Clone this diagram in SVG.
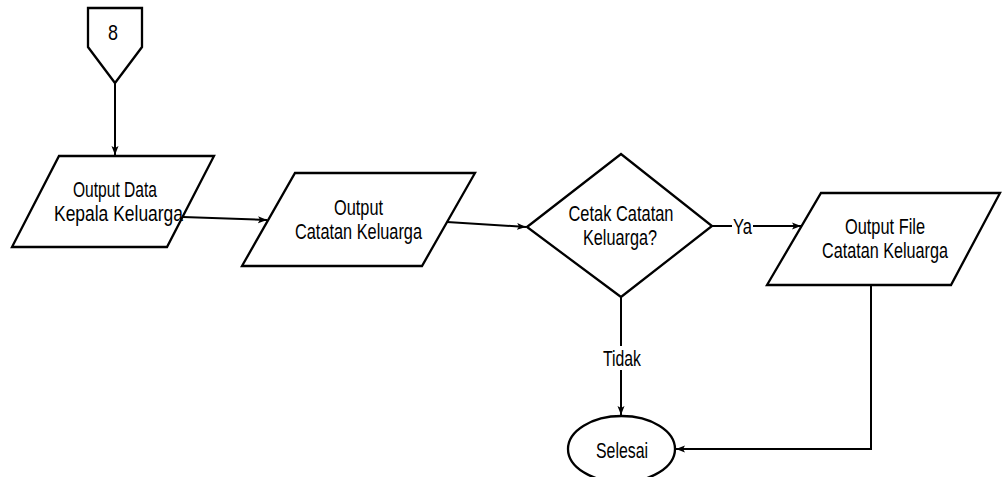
<svg xmlns="http://www.w3.org/2000/svg" width="1003" height="477" viewBox="0 0 1003 477">
<style>
.s{fill:#fff;stroke:#000;stroke-width:2.3;stroke-linejoin:miter}
.c{fill:none;stroke:#000;stroke-width:2}
.t{font-family:"Liberation Sans",Arial,sans-serif;font-size:21.5px;fill:#000;text-anchor:middle}
.bg{fill:#fff}
</style>
<defs>
<marker id="ah" markerWidth="10" markerHeight="8" refX="9" refY="4" orient="auto" markerUnits="userSpaceOnUse">
<path d="M0,0.5 L9,4 L0,7.5 L2,4 Z" fill="#000"/>
</marker>
</defs>
<rect width="1003" height="477" fill="#fff"/>
<g id="connectors">
<path class="c" d="M115,83 L115,155" marker-end="url(#ah)"/>
<path class="c" d="M183,217 L267,220" marker-end="url(#ah)"/>
<path class="c" d="M447,222 L526,227" marker-end="url(#ah)"/>
<path class="c" d="M712,226 L801,226" marker-end="url(#ah)"/>
<path class="c" d="M621,297 L621,415" marker-end="url(#ah)"/>
<path class="c" d="M871,285 L871,449 L676,449" marker-end="url(#ah)"/>
<rect class="bg" x="732" y="216" width="21" height="20"/>
<text class="t" x="742.5" y="233.5" textLength="19" lengthAdjust="spacingAndGlyphs">Ya</text>
<rect class="bg" x="601" y="346" width="42" height="24"/>
<text class="t" x="622" y="366" textLength="38" lengthAdjust="spacingAndGlyphs">Tidak</text>
</g>
<g id="n8">
<path class="s" d="M88,8 L142,8 L142,47 L115,83 L88,47 Z"/>
<text class="t" x="113" y="40" textLength="10" lengthAdjust="spacingAndGlyphs">8</text>
</g>
<g id="outputDataKK">
<path class="s" d="M59,156 L214,156 L167,247 L12,247 Z"/>
<text class="t" x="115" y="196.5" textLength="84" lengthAdjust="spacingAndGlyphs">Output Data</text>
<text class="t" x="118.5" y="220.5" textLength="129" lengthAdjust="spacingAndGlyphs">Kepala Keluarga</text>
</g>
<g id="outputCatatan">
<path class="s" d="M295,173 L475,173 L422,266 L242,266 Z"/>
<text class="t" x="358.5" y="215" textLength="49" lengthAdjust="spacingAndGlyphs">Output</text>
<text class="t" x="358.5" y="239" textLength="127" lengthAdjust="spacingAndGlyphs">Catatan Keluarga</text>
</g>
<g id="decision">
<path class="s" d="M527,227 L621,154 L712,226 L621,297 Z"/>
<text class="t" x="621" y="221" textLength="105" lengthAdjust="spacingAndGlyphs">Cetak Catatan</text>
<text class="t" x="620" y="245" textLength="74" lengthAdjust="spacingAndGlyphs">Keluarga?</text>
</g>
<g id="outputFile">
<path class="s" d="M821,193 L1000,193 L951,285 L767,285 Z"/>
<text class="t" x="885" y="234" textLength="80" lengthAdjust="spacingAndGlyphs">Output File</text>
<text class="t" x="885" y="258" textLength="126" lengthAdjust="spacingAndGlyphs">Catatan Keluarga</text>
</g>
<g id="selesai">
<ellipse class="s" cx="621.5" cy="449" rx="53.5" ry="33"/>
<text class="t" x="622" y="457.5" textLength="52" lengthAdjust="spacingAndGlyphs">Selesai</text>
</g>
</svg>
